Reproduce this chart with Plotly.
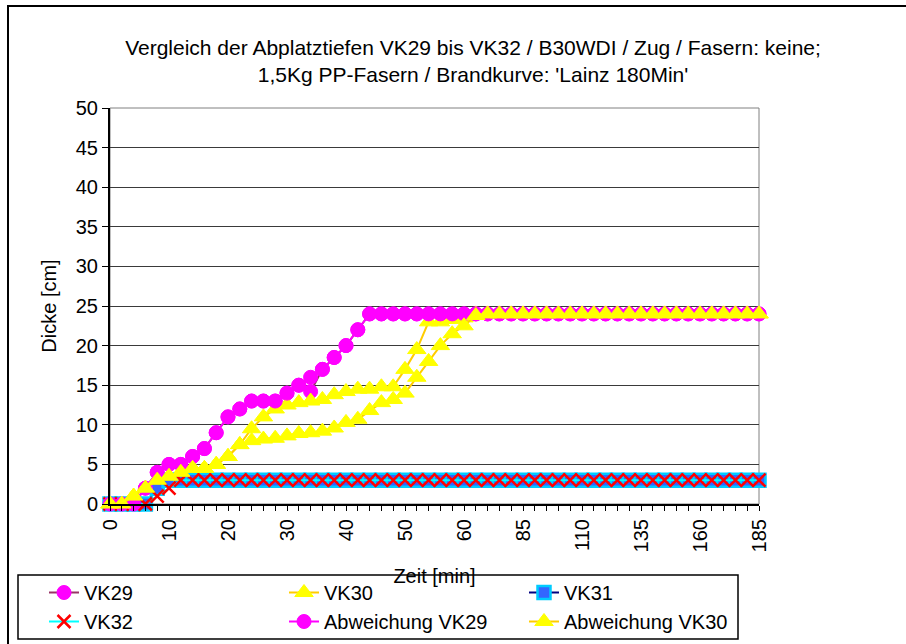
import plotly.graph_objects as go

# ---- data ----
minutes = [0, 2, 4, 6, 8, 10, 12, 14, 16, 18, 20, 22, 24, 26, 28, 30, 32, 34, 36, 38,
           40, 42, 44, 46, 48, 50, 52, 54, 56, 58, 60,
           65, 70, 75, 80, 85, 90, 95, 100, 105, 110, 115, 120, 125, 130, 135,
           140, 145, 150, 155, 160, 165, 170, 175, 180, 185]
categories = [str(m) for m in minutes]

vk29 = [0, 0, 0, 2, 4, 5, 5, 6, 7, 9, 11, 12, 13, 13, 13, 14, 15, 14.2, 17, 18.5,
        20, 22, 24, 24, 24, 24, 24, 24, 24, 24, 24] + [24] * 25
vk30 = [0, 0, 1, 2, 3, 3.5, 4, 4.5, 4.5, 5, 6, 7.5, 9.5, 11, 12, 12.5, 12.8, 13, 13.2, 13.8,
        14.2, 14.5, 14.5, 14.8, 14.8, 17, 19.5, 23, 23, 23.3, 23.5] + [24] * 25
vk31 = [0, 0, 0, 0, 2, 3, 3, 3, 3, 3, 3, 3, 3, 3, 3, 3, 3, 3, 3, 3,
        3, 3, 3, 3, 3, 3, 3, 3, 3, 3, 3] + [3] * 25
vk32 = [0, 0, 0, 0, 1, 2, 3, 3, 3, 3, 3, 3, 3, 3, 3, 3, 3, 3, 3, 3,
        3, 3, 3, 3, 3, 3, 3, 3, 3, 3, 3] + [3] * 25
abw_vk29 = [0, 0, 0, 2, 4, 5, 5, 6, 7, 9, 11, 12, 13, 13, 13, 14, 15, 16, 17, 18.5,
            20, 22, 24, 24, 24, 24, 24, 24, 24, 24, 24] + [24] * 25
abw_vk30 = [0, 0, 1, 2, 3, 3.5, 4, 4.5, 4.5, 5, 6, 7.5, 8, 8.2, 8.3, 8.6, 8.9, 9, 9.2, 9.6,
            10.3, 10.7, 11.8, 12.8, 13.2, 14, 16, 18, 20, 21.5, 22.5] + [23.8, 24] + [24] * 23

tick_labels = [c if i % 5 == 0 else "" for i, c in enumerate(categories)]

FONT = "Liberation Sans, Arial, sans-serif"

series = [
    ("VK29", vk29, "#993366", dict(symbol="circle", size=14, color="#FF00FF",
                                   line=dict(color="#FF00FF", width=1))),
    ("VK30", vk30, "#FFCC00", dict(symbol="triangle-up", size=16, color="#FFFF00",
                                   line=dict(color="#FFFF00", width=1))),
    ("VK31", vk31, "#000080", dict(symbol="square", size=13, color="#3366FF",
                                   line=dict(color="#00CCFF", width=2.5))),
    ("VK32", vk32, "#00FFFF", dict(symbol="x-thin", size=13, color="#FF0000",
                                   line=dict(color="#FF0000", width=2.5))),
    ("Abweichung VK29", abw_vk29, "#FF00FF", dict(symbol="circle", size=14, color="#FF00FF",
                                                  line=dict(color="#FF00FF", width=1))),
    ("Abweichung VK30", abw_vk30, "#FFCC00", dict(symbol="triangle-up", size=16, color="#FFFF00",
                                                  line=dict(color="#FFFF00", width=1))),
]

fig = go.Figure()
for name, vals, lcol, mk in series:
    fig.add_trace(go.Scatter(
        x=categories, y=vals, name=name, mode="lines+markers",
        line=dict(color=lcol, width=2), marker=mk, cliponaxis=False,
    ))

W, H = 906, 644
L, R, T, B = 110, 147, 108, 140
pw, ph = W - L - R, H - T - B


def px_x(p):
    return (p - L) / pw


def px_y(p):
    return (H - B - p) / ph


fig.update_layout(
    width=W, height=H,
    margin=dict(l=L, r=R, t=T, b=B, autoexpand=False),
    paper_bgcolor="white", plot_bgcolor="white",
    font=dict(family=FONT, size=20, color="black"),
    title=dict(
        text="Vergleich der Abplatztiefen VK29 bis VK32 / B30WDI / Zug / Fasern: keine;<br>"
             "1,5Kg PP-Fasern / Brandkurve: 'Lainz 180Min'",
        x=px_x(473), xref="paper", xanchor="center",
        y=(H - 55) / H, yref="container", yanchor="middle",
        font=dict(family=FONT, size=21, color="black"),
    ),
    xaxis=dict(
        type="category", range=[0, len(categories) - 1],
        tickmode="array", tickvals=categories, ticktext=tick_labels,
        tickangle=-90, ticks="outside", ticklen=5, tickcolor="black",
        showline=True, linecolor="black", linewidth=2,
        showgrid=False, automargin=False,
        title=dict(text="Zeit [min]", standoff=18, font=dict(size=20)),
        tickfont=dict(size=20),
    ),
    yaxis=dict(
        range=[0, 50], dtick=5, tick0=0,
        ticks="outside", ticklen=6, tickcolor="black",
        showline=True, linecolor="black", linewidth=2,
        showgrid=True, gridcolor="#3a3a3a", gridwidth=1,
        zeroline=False, automargin=False,
        title=dict(text="Dicke [cm]", standoff=14, font=dict(size=20)),
        tickfont=dict(size=20),
    ),
    showlegend=True,
    legend=dict(
        orientation="h", x=px_x(44), xanchor="left", y=px_y(573), yanchor="top",
        entrywidth=195, entrywidthmode="pixels",
        bgcolor="rgba(0,0,0,0)", borderwidth=0,
        font=dict(family=FONT, size=20, color="black"),
        traceorder="normal", itemsizing="trace",
    ),
    shapes=[
        # plot area border
        dict(type="rect", xref="paper", yref="paper", x0=0, x1=1, y0=0, y1=1,
             line=dict(color="#808080", width=1), layer="below"),
        # legend box
        dict(type="rect", xref="paper", yref="paper",
             x0=px_x(18), x1=px_x(738), y0=px_y(575), y1=px_y(639),
             line=dict(color="black", width=1.5), fillcolor="white", layer="above"),
        # chart area border
        dict(type="rect", xref="paper", yref="paper",
             x0=px_x(8), x1=px_x(960), y0=px_y(700), y1=px_y(6),
             line=dict(color="black", width=2), layer="above"),
    ],
)

fig.write_html("out.html", config={"displayModeBar": False},
               post_script="document.body.style.margin='0';")
